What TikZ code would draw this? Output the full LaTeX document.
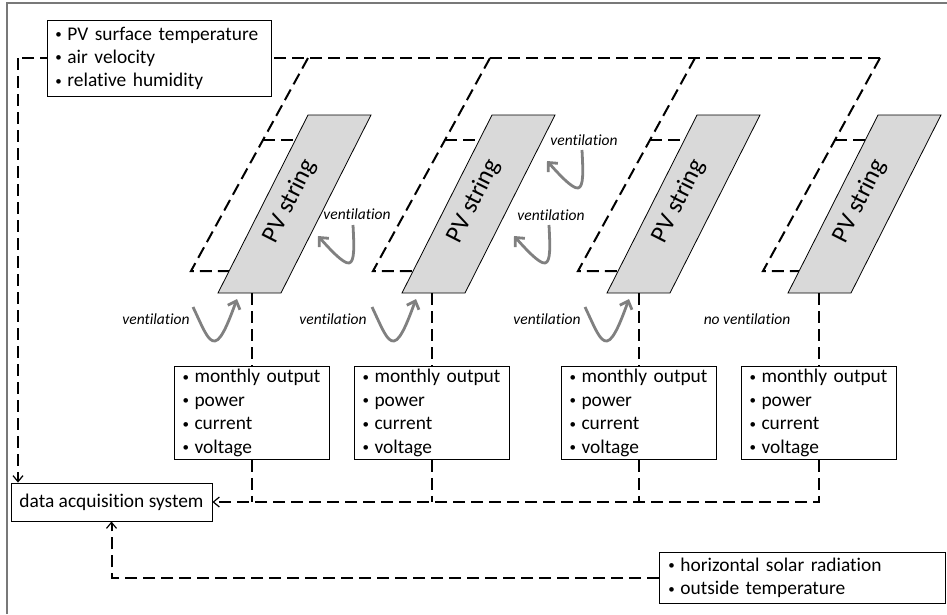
\documentclass[tikz,border=0pt]{standalone}
\usepackage{fontspec}
\setmainfont{Carlito}[Ligatures=NoCommon]
\usetikzlibrary{arrows.meta}
\definecolor{panelgray}{RGB}{217,217,217}
\definecolor{ventgray}{RGB}{128,128,128}
\definecolor{framegray}{RGB}{120,120,120}
\newcommand\bul{\makebox[14pt][l]{\hspace{2pt}\raisebox{1.6pt}{\fontsize{13}{13}\selectfont•}}}
\begin{document}
\begin{tikzpicture}[x=1pt,y=-1pt,
  dl/.style={line width=2pt, dash pattern=on 12pt off 6pt, black},
  tip/.style={-{Straight Barb[length=6pt,width=10pt,line width=1.2pt]}},
  infobox/.style={draw=black, line width=0.9pt, fill=white, align=left,
    font=\fontsize{19.4}{23.4}\selectfont, inner ysep=0pt},
  panel/.style={draw=black, line width=0.8pt, fill=panelgray},
  pvlabel/.style={font=\fontsize{25}{28}\selectfont, rotate=63.2, inner sep=0pt},
  ventlabel/.style={font=\fontsize{15.5}{18}\selectfont\itshape, inner sep=0pt},
  vent/.style={draw=ventgray, line width=2.8pt,
    -{Straight Barb[length=7pt,width=13pt]}},
]
\useasboundingbox (0,0) rectangle (947,614);
% frame
\draw[framegray, line width=1.5pt] (7,614) -- (7,3) -- (947,3);

% coordinates
\coordinate (tl) at (18,58);
\coordinate (d4t) at (880,58);

% data acquisition box
\node[infobox, align=center, minimum width=201pt, minimum height=38pt, inner xsep=0pt]
  (acq) at (111.5,502) {data acquisition system};

% top dashed line and left line
\draw[dl] (d4t) -- (tl);
\draw[dl, tip] (tl) -- (tl |- acq.north);

% dashed mounting frames
\foreach \bl/\T in {218/308, 402/490, 607/695, 788/880}{
  \draw[dl] (\T,58) -- (\T-117,271) -- (\bl+11,271);
  \draw[dl] (\T-45,140) -- (\bl+77,140);
}

% panels
\foreach \bl/\n in {218/1, 402/2, 607/3, 788/4}{
  \draw[panel] (\bl,293) -- (\bl+63,293) -- (\bl+153,115) -- (\bl+90,115) -- cycle;
  \node[pvlabel] (pv\n) at (\bl+72,201) {PV string};
}
\coordinate (p1) at (252,293);
\coordinate (p2) at (432,293);
\coordinate (p3) at (639,293);
\coordinate (p4) at (819,293);

% top info box
\node[infobox, anchor=north west, minimum width=224pt, minimum height=76pt,
  inner xsep=6pt, text width=212pt] (env) at (47,20)
  {\mbox{\bul PV surface temperature}\\ \mbox{\bul air velocity}\\ \mbox{\bul relative humidity}};

% output boxes
\foreach \n/\x in {1/252, 2/432, 3/639, 4/819}{
  \node[infobox, anchor=north, minimum width=155pt, minimum height=93pt,
    inner xsep=6pt, text width=143pt] (b\n) at (\x,366)
    {\mbox{\bul monthly output}\\ \mbox{\bul power}\\ \mbox{\bul current}\\ \mbox{\bul voltage}};
  \draw[dl] (p\n) -- (b\n.north);
}
\draw[dl] (b1.south) -- (b1.south |- acq.east);
\draw[dl] (b2.south) -- (b2.south |- acq.east);
\draw[dl] (b3.south) -- (b3.south |- acq.east);
\draw[dl, tip] (b4.south) |- (acq.east);

% solar box
\node[infobox, anchor=north west, minimum width=286pt, minimum height=51pt,
  inner xsep=7pt, text width=272pt] (sol) at (659,552)
  {\mbox{\bul horizontal solar radiation}\\ \mbox{\bul outside temperature}};
\draw[dl, tip] (sol.west) -| (acq.south);

% ventilation labels
\node[ventlabel] (v1) at (357,214) {ventilation};
\node[ventlabel] (v2) at (584,140) {ventilation};
\node[ventlabel] (v3) at (551,215) {ventilation};
\node[ventlabel] (v4) at (156,319) {ventilation};
\node[ventlabel] (v5) at (333,319) {ventilation};
\node[ventlabel] (v6) at (547,319) {ventilation};
\node[ventlabel] (v7) at (747,319) {no ventilation};

% ventilation arrows (upper, pointing to panel rear)
\foreach \dx/\dy in {0/0, 229/-75, 196/0}{
  \begin{scope}[shift={(\dx,\dy)}]
  \draw[vent] (353,225) .. controls (354,245) and (355,262) .. (349,263)
     .. controls (343,264) and (328,247) .. (318,236);
  \end{scope}
}
% ventilation arrows (lower)
\foreach \dx in {0, 179, 392}{
  \begin{scope}[shift={(\dx,0)}]
  \draw[vent] (193,307) .. controls (203,328) and (208,342) .. (215,341)
     .. controls (222,340) and (230,318) .. (237,299);
  \end{scope}
}
\end{tikzpicture}
\end{document}
